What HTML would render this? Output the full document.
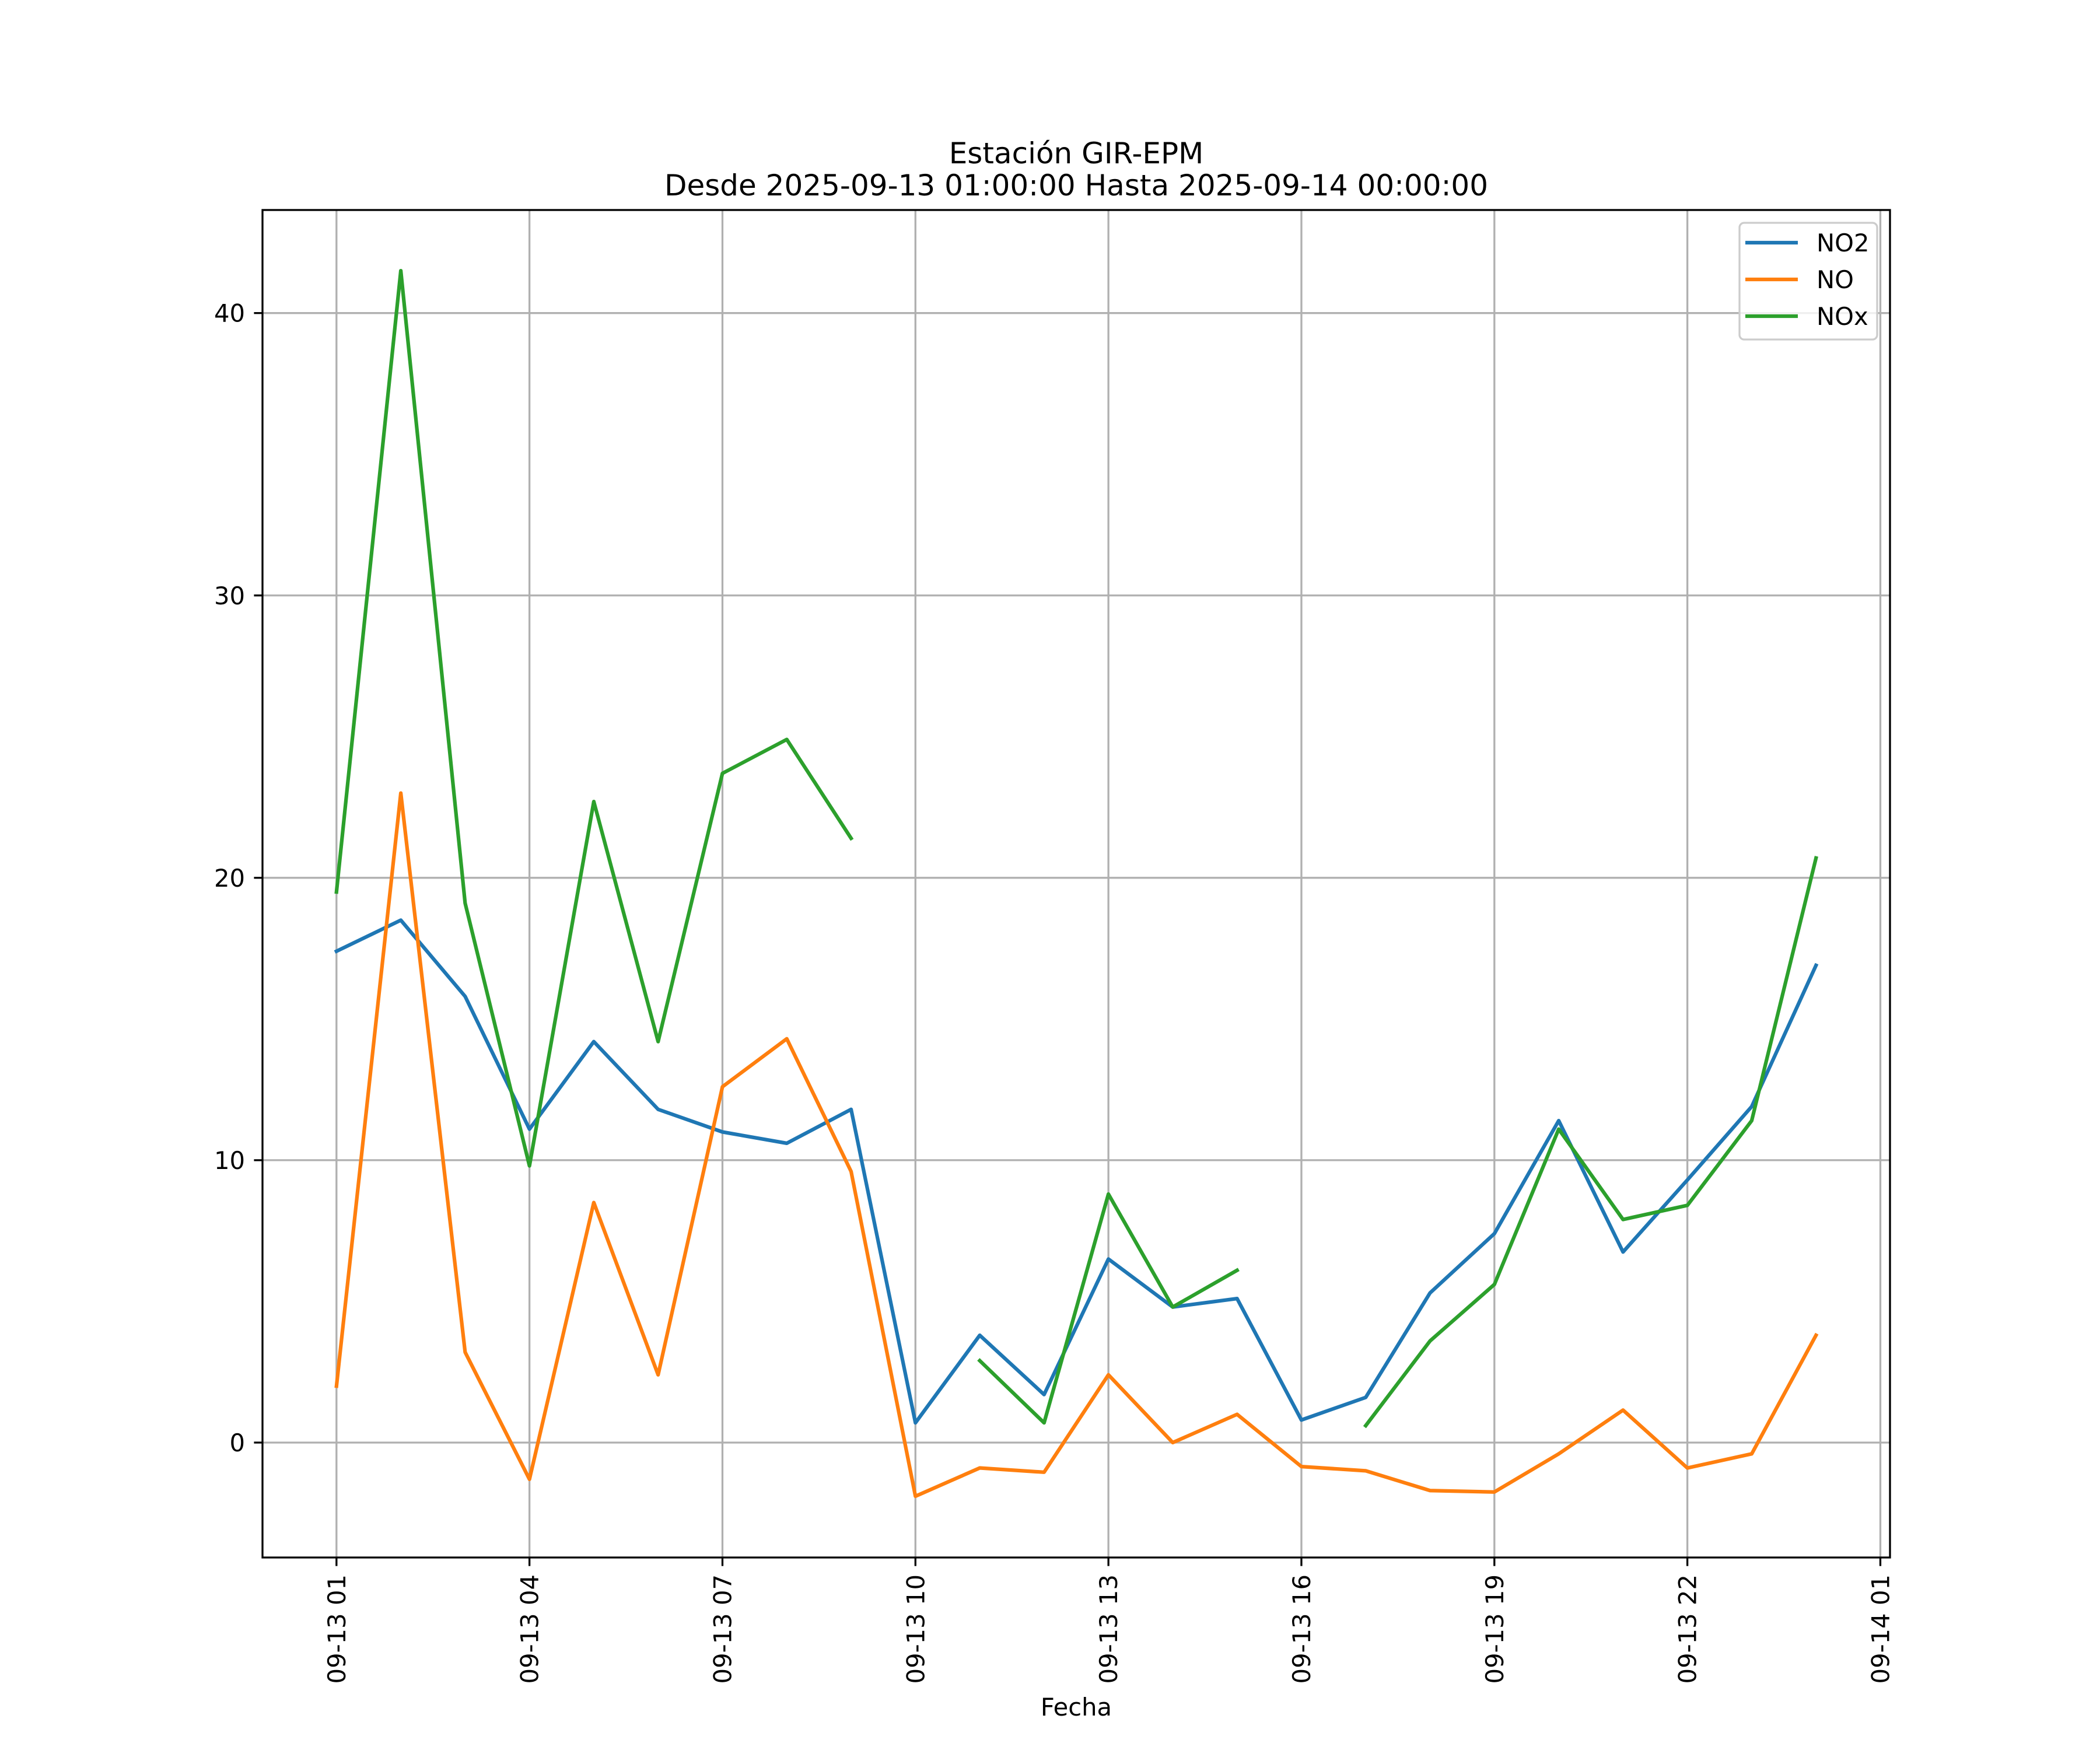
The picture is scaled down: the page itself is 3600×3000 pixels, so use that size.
<!DOCTYPE html>
<html><head><meta charset="utf-8">
<style>
html,body{margin:0;padding:0;background:#fff;}
svg{display:block;font-family:"DejaVu Sans","Liberation Sans",sans-serif;}
</style></head>
<body>
<svg id="chart" width="3600" height="3000" viewBox="0 0 3600 3000" xmlns="http://www.w3.org/2000/svg">
<rect width="3600" height="3000" fill="#fff"/>
<text x="1845" y="280" font-size="50" text-anchor="middle">Estación GIR-EPM</text>
<text x="1845" y="335" font-size="50" text-anchor="middle">Desde 2025-09-13 01:00:00 Hasta 2025-09-14 00:00:00</text>
<g id="grid"></g>
<g id="series"></g>
<rect x="450" y="360" width="2790" height="2310" fill="none" stroke="#000" stroke-width="3.3"/>
<g id="ticks"></g>
<text x="1845" y="2941" font-size="41.7" text-anchor="middle">Fecha</text>
<g>
<rect x="2982" y="382" width="236" height="200" rx="8" fill="#fff" fill-opacity="0.8" stroke="#ccc" stroke-width="3.3"/>
<g><line x1="2992" y1="416" x2="3082" y2="416" stroke="#1f77b4" stroke-width="6.25"/><text x="3114" y="431" font-size="41.7">NO2</text></g>
<g><line x1="2992" y1="479" x2="3082" y2="479" stroke="#ff7f0e" stroke-width="6.25"/><text x="3114" y="494" font-size="41.7">NO</text></g>
<g><line x1="2992" y1="542" x2="3082" y2="542" stroke="#2ca02c" stroke-width="6.25"/><text x="3114" y="557" font-size="41.7">NOx</text></g>
</g>
</svg>
<script>
const hours = [1,2,3,4,5,6,7,8,9,10,11,12,13,14,15,16,17,18,19,20,21,22,23,24];
const no2 = [17.4,18.5,15.8,11.1,14.2,11.8,11.0,10.6,11.8,0.7,3.8,1.7,6.5,4.8,5.1,0.8,1.6,5.3,7.4,11.4,6.75,9.3,11.9,16.9];
const no = [2.0,23.0,3.2,-1.3,8.5,2.4,12.6,14.3,9.6,-1.9,-0.9,-1.05,2.4,0.0,1.0,-0.85,-1.0,-1.7,-1.75,-0.4,1.15,-0.9,-0.4,3.8];
const nox = [19.5,41.5,19.1,9.8,22.7,14.2,23.7,24.9,21.4,null,2.9,0.7,8.8,4.8,6.1,null,0.6,3.6,5.6,11.1,7.9,8.4,11.4,20.7];
const yTicks = [0,10,20,30,40];
const xTickHours = [1,4,7,10,13,16,19,22,25];
const xTickLabels = ["09-13 01","09-13 04","09-13 07","09-13 10","09-13 13","09-13 16","09-13 19","09-13 22","09-14 01"];

const NS="http://www.w3.org/2000/svg";
const L=450,R=3240,T=360,B=2670;
const xMin=1-1.15,xMax=24+1.15,yMin=-4.07,yMax=43.65;
function xs(h){return L+(h-xMin)/(xMax-xMin)*(R-L);}
function ys(v){return B-(v-yMin)/(yMax-yMin)*(B-T);}
function mk(tag,attrs,parent){const e=document.createElementNS(NS,tag);for(const k in attrs)e.setAttribute(k,attrs[k]);parent.appendChild(e);return e;}
const grid=document.getElementById('grid'),ticks=document.getElementById('ticks'),ser=document.getElementById('series');

xTickHours.forEach((h,i)=>{
  const x=xs(h);
  const g=mk('line',{x1:x,y1:T,x2:x,y2:B,stroke:'#b0b0b0','stroke-width':3.3},grid);
  
  
  const t=mk('line',{x1:x,y1:B,x2:x,y2:B+14.6,stroke:'#000','stroke-width':3.3},ticks);
  
  
  const lb=mk('text',{x:0,y:0,'font-size':41.7,'text-anchor':'end',transform:`translate(${x+15},${B+29}) rotate(-90)`},ticks);
  lb.textContent=xTickLabels[i];
  
  
});
yTicks.forEach(v=>{
  const y=ys(v);
  const g=mk('line',{x1:L,y1:y,x2:R,y2:y,stroke:'#b0b0b0','stroke-width':3.3},grid);
  
  
  const t=mk('line',{x1:L-14.6,y1:y,x2:L,y2:y,stroke:'#000','stroke-width':3.3},ticks);
  
  
  const lb=mk('text',{x:L-30,y:y+15,'font-size':41.7,'text-anchor':'end'},ticks);
  lb.textContent=String(v);
  
  
});
function drawSeries(vals,color,name){
  let segs=[],cur=[];
  vals.forEach((v,i)=>{if(v===null){if(cur.length)segs.push(cur);cur=[];}else cur.push([xs(hours[i]),ys(v)]);});
  if(cur.length)segs.push(cur);
  segs.forEach(s=>{
    if(s.length<2)return;
    const p=mk('polyline',{points:s.map(q=>q.join(',')).join(' '),fill:'none',stroke:color,'stroke-width':6.25,'stroke-linejoin':'round','stroke-linecap':'square'},ser);
    
    
  });
}
drawSeries(no2,'#1f77b4','line-no2');
drawSeries(no,'#ff7f0e','line-no');
drawSeries(nox,'#2ca02c','line-nox');
</script>
</body></html>
